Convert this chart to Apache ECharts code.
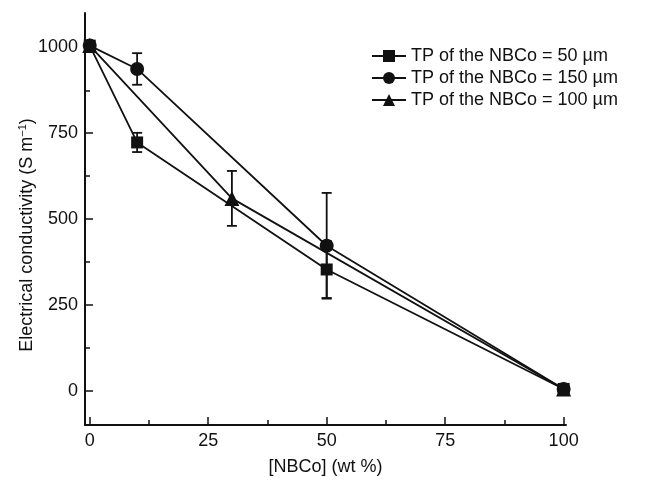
<!DOCTYPE html>
<html>
<head>
<meta charset="utf-8">
<script src="https://cdn.jsdelivr.net/npm/echarts@6/dist/echarts.min.js"></script>
<style>
  html, body { margin: 0; padding: 0; background: #fff; }
  #main { width: 657px; height: 482px; }
</style>
</head>
<body>
<div id="main"></div>
<script>
// NBCo content (wt %) and conductivity (S/m) for each particle size
var x50 = [0, 10, 50, 100];
var y50 = [1005, 723, 353, 5];
var err50 = [0, 28, 83, 0];

var x150 = [0, 10, 50, 100];
var y150 = [1005, 937, 422, 5];
var err150 = [0, 46, 154, 0];

var x100 = [0, 30, 100];
var y100 = [1005, 560, 5];
var err100 = [0, 80, 0];

var names = ['TP of the NBCo = 50 \u00b5m', 'TP of the NBCo = 150 \u00b5m', 'TP of the NBCo = 100 \u00b5m'];

var yLabels = [0, 250, 500, 750, 1000];
var yMinor = [125, 375, 625, 875];
var xLabels = [0, 25, 50, 75, 100];
var xMinor = [12.5, 37.5, 62.5, 87.5];

var font = 'Liberation Sans, Arial, sans-serif';
var ink = '#111';
var fs = 18;

function pts(xs, ys) {
    return xs.map(function (x, i) { return [x, ys[i]]; });
}
function errPts(xs, ys, es) {
    var out = [];
    xs.forEach(function (x, i) {
        if (es[i] > 0) out.push([x, ys[i] - es[i], ys[i] + es[i]]);
    });
    return out;
}

function errorBar(params, api) {
    var x = api.value(0);
    var lo = api.coord([x, api.value(1)]);
    var hi = api.coord([x, api.value(2)]);
    var cap = 5;
    var st = { stroke: ink, lineWidth: 1.8 };
    return {
        type: 'group',
        children: [
            { type: 'line', shape: { x1: lo[0], y1: lo[1], x2: hi[0], y2: hi[1] }, style: st },
            { type: 'line', shape: { x1: lo[0] - cap, y1: lo[1], x2: lo[0] + cap, y2: lo[1] }, style: st },
            { type: 'line', shape: { x1: hi[0] - cap, y1: hi[1], x2: hi[0] + cap, y2: hi[1] }, style: st }
        ]
    };
}

function lineSeries(name, data, symbol, size) {
    return {
        name: name,
        type: 'line',
        data: data,
        symbol: symbol,
        symbolSize: size,
        showAllSymbol: true,
        lineStyle: { color: ink, width: 1.8 },
        itemStyle: { color: ink, borderWidth: 0 },
        z: 3
    };
}

function errSeries(data) {
    return {
        type: 'custom',
        renderItem: errorBar,
        data: data,
        z: 2,
        silent: true
    };
}

var chart = echarts.init(document.getElementById('main'));

var option = {
    animation: false,
    backgroundColor: '#fff',
    textStyle: { fontFamily: font },
    grid: { left: 85, right: 91, top: 13, bottom: 57 },
    legend: {
        orient: 'vertical',
        left: 366,
        top: 42,
        itemWidth: 34,
        itemHeight: 15,
        itemGap: 4,
        data: names,
        textStyle: { fontFamily: font, fontSize: fs, color: ink }
    },
    xAxis: [{
        type: 'value',
        min: -1,
        max: 100.5,
        name: '[NBCo] (wt %)',
        nameLocation: 'middle',
        nameGap: 33,
        nameMoveOverlap: false,
        nameTextStyle: { fontSize: fs, color: ink, fontFamily: font },
        splitLine: { show: false },
        axisLine: { show: true, onZero: false, lineStyle: { color: ink, width: 2 } },
        axisTick: { show: true, inside: true, length: 8, customValues: xLabels, lineStyle: { color: ink, width: 1.5 } },
        axisLabel: { customValues: xLabels, fontSize: fs, color: ink, margin: 7, fontFamily: font }
    }, {
        type: 'value',
        min: -1,
        max: 100.5,
        position: 'bottom',
        splitLine: { show: false },
        axisLine: { show: false, onZero: false },
        axisTick: { show: true, inside: true, length: 5, customValues: xMinor, lineStyle: { color: ink, width: 1.5 } },
        axisLabel: { show: false }
    }],
    yAxis: [{
        type: 'value',
        min: -100,
        max: 1100,
        name: '{n|Electrical conductivity (S m}{s|\u22121}{n|)}',
        nameLocation: 'middle',
        nameGap: 48,
        nameMoveOverlap: false,
        nameTextStyle: {
            fontSize: fs, color: ink, fontFamily: font,
            padding: [0, 32, 0, 0],
            rich: {
                n: { fontSize: fs, color: ink, fontFamily: font },
                s: { fontSize: 11, color: ink, fontFamily: font, verticalAlign: 'top', padding: [0, 0, 9, 0] }
            }
        },
        splitLine: { show: false },
        axisLine: { show: true, onZero: false, lineStyle: { color: ink, width: 2 } },
        axisTick: { show: true, inside: true, length: 8, customValues: yLabels, lineStyle: { color: ink, width: 1.5 } },
        axisLabel: {
            customValues: yLabels, fontSize: fs, color: ink, margin: 7, fontFamily: font,
            formatter: function (v) { return String(v); }
        }
    }, {
        type: 'value',
        min: -100,
        max: 1100,
        position: 'left',
        splitLine: { show: false },
        axisLine: { show: false, onZero: false },
        axisTick: { show: true, inside: true, length: 5, customValues: yMinor, lineStyle: { color: ink, width: 1.5 } },
        axisLabel: { show: false }
    }],
    series: [
        lineSeries(names[0], pts(x50, y50), 'rect', 12),
        lineSeries(names[1], pts(x150, y150), 'circle', 14),
        lineSeries(names[2], pts(x100, y100), 'triangle', 15),
        errSeries(errPts(x50, y50, err50)),
        errSeries(errPts(x150, y150, err150)),
        errSeries(errPts(x100, y100, err100))
    ]
};

chart.setOption(option);
</script>
</body>
</html>
